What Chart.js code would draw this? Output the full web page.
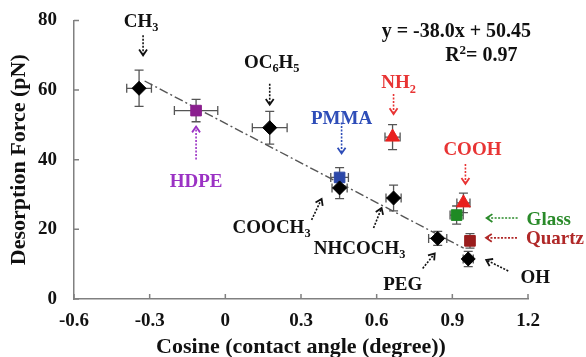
<!DOCTYPE html>
<html>
<head>
<meta charset="utf-8">
<script src="https://cdn.jsdelivr.net/npm/chart.js@4"></script>
<style>
  body { margin: 0; background: #fff; }
</style>
</head>
<body>
<canvas id="mycanvas" width="586" height="357"></canvas>
<script>
// data
var pointNames = ['CH3', 'HDPE', 'OC6H5', 'PMMA', 'COOCH3', 'NHCOCH3', 'NH2', 'COOH', 'Glass', 'PEG', 'Quartz', 'OH'];
var cosVals   = [-0.342, -0.116, 0.176, 0.453, 0.453, 0.667, 0.663, 0.944, 0.917, 0.842, 0.970, 0.963];
var forceVals = [60.5, 54.1, 49.2, 34.9, 31.9, 29.0, 46.5, 27.6, 24.1, 17.4, 16.7, 11.5];
var cosErr    = [0.049, 0.086, 0.069, 0.035, 0.030, 0.030, 0.030, 0.026, 0.026, 0.036, 0.016, 0.020];
var forceErr  = [5.2, 3.2, 4.7, 2.8, 3.1, 3.7, 3.6, 2.8, 2.6, 2.0, 2.1, 2.2];
var kinds     = ['black', 'hdpe', 'black', 'pmma', 'black', 'black', 'red', 'red', 'glass', 'black', 'quartz', 'black'];

// fitted line end points (y = -38.0x + 50.45)
var trendX = [-0.32, 0.945];
var trendY = [62.6, 14.6];

var xTicks = [-0.6, -0.3, 0, 0.3, 0.6, 0.9, 1.2];
var yTicks = [0, 20, 40, 60, 80];

var markerStyle = {
    black:  { shape: 'rectRot',  color: '#000000', r: 7 },
    hdpe:   { shape: 'rect',     color: '#8a1f8e', r: 7.5 },
    pmma:   { shape: 'rect',     color: '#2b47a8', r: 7.5 },
    red:    { shape: 'triangle', color: '#e8201e', r: 8 },
    glass:  { shape: 'rect',     color: '#1f8a24', r: 7.5 },
    quartz: { shape: 'rect',     color: '#9a1d1d', r: 7.5 }
};

// labels, offsets in px from their point
var notes = [
    { i: 0,  text: 'CH_3',      color: '#111', dx: 2,   dy: -68, align: 'center', arrow: [4, -53, 4, -33] },
    { i: 1,  text: 'HDPE',      color: '#9b32c4', dx: 0, dy: 70, align: 'center', arrow: [0, 49, 0, 16] },
    { i: 2,  text: 'OC_6H_5',   color: '#111', dx: 2,   dy: -66, align: 'center', arrow: [0, -44, 0, -23] },
    { i: 3,  text: 'PMMA',      color: '#2e4db8', dx: 2, dy: -60, align: 'center', arrow: [2, -55, 2, -24] },
    { i: 4,  text: 'COOCH_3',   color: '#111', dx: -68, dy: 39, align: 'center', arrow: [-28, 32, -18, 11] },
    { i: 5,  text: 'NHCOCH_3',  color: '#111', dx: -34, dy: 50, align: 'center', arrow: [-20, 30, -12, 10] },
    { i: 6,  text: 'NH_2',      color: '#e83434', dx: 6, dy: -55, align: 'center', arrow: [1, -43, 1, -23] },
    { i: 7,  text: 'COOH',      color: '#e83434', dx: 9, dy: -54, align: 'center', arrow: [2, -39, 2, -19] },
    { i: 8,  text: 'Glass',     color: '#2a8a2a', dx: 70, dy: 4, align: 'left', arrow: [61, 3, 30, 3] },
    { i: 9,  text: 'PEG',       color: '#111', dx: -35, dy: 45, align: 'center', arrow: [-15, 30, -3, 15] },
    { i: 10, text: 'Quartz',    color: '#b02828', dx: 56, dy: -3, align: 'left', arrow: [47, -3, 16, -3] },
    { i: 11, text: 'OH',        color: '#111', dx: 67, dy: 18, align: 'center', arrow: [40, 12, 18, 1] }
];

var serif = '"Liberation Serif", "Times New Roman", serif';

function drawRich(ctx, str, x, y, align, size) {
    var parts = [];
    for (var k = 0; k < str.length; k++) {
        var c = str[k];
        if ((c == '_' || c == '^') && k + 1 < str.length) {
            parts.push({ t: str[k + 1], mode: c });
            k++;
        } else {
            parts.push({ t: c, mode: '' });
        }
    }
    var total = 0;
    parts.forEach(function (p) {
        p.size = p.mode ? size * 0.65 : size;
        ctx.font = 'bold ' + p.size + 'px ' + serif;
        p.w = ctx.measureText(p.t).width;
        total += p.w;
    });
    var cx = align == 'left' ? x : (align == 'right' ? x - total : x - total / 2);
    ctx.textAlign = 'left';
    ctx.textBaseline = 'alphabetic';
    parts.forEach(function (p) {
        ctx.font = 'bold ' + p.size + 'px ' + serif;
        var off = size * 0.33;
        if (p.mode == '_') off += size * 0.22;
        if (p.mode == '^') off -= size * 0.38;
        ctx.fillText(p.t, cx, y + off);
        cx += p.w;
    });
}

function drawArrow(ctx, x0, y0, x1, y1, color) {
    ctx.save();
    ctx.strokeStyle = color;
    ctx.lineWidth = 1.6;
    ctx.setLineDash([2, 1.5]);
    ctx.beginPath();
    ctx.moveTo(x0, y0);
    ctx.lineTo(x1, y1);
    ctx.stroke();
    ctx.setLineDash([]);
    ctx.lineWidth = 1.8;
    var a = Math.atan2(y1 - y0, x1 - x0);
    var L = 7;
    ctx.beginPath();
    ctx.moveTo(x1 - L * Math.cos(a - 0.6), y1 - L * Math.sin(a - 0.6));
    ctx.lineTo(x1, y1);
    ctx.lineTo(x1 - L * Math.cos(a + 0.6), y1 - L * Math.sin(a + 0.6));
    ctx.stroke();
    ctx.restore();
}

var overlay = {
    id: 'overlay',
    beforeDatasetsDraw: function (chart) {
        var ctx = chart.ctx, x = chart.scales.x, y = chart.scales.y;
        ctx.save();
        ctx.strokeStyle = '#555';
        ctx.lineWidth = 1.3;
        for (var i = 0; i < cosVals.length; i++) {
            var px = x.getPixelForValue(cosVals[i]);
            var py = y.getPixelForValue(forceVals[i]);
            var xa = x.getPixelForValue(cosVals[i] - cosErr[i]);
            var xb = x.getPixelForValue(cosVals[i] + cosErr[i]);
            var ya = y.getPixelForValue(forceVals[i] - forceErr[i]);
            var yb = y.getPixelForValue(forceVals[i] + forceErr[i]);
            var cap = 4.5;
            ctx.beginPath();
            ctx.moveTo(xa, py); ctx.lineTo(xb, py);
            ctx.moveTo(xa, py - cap); ctx.lineTo(xa, py + cap);
            ctx.moveTo(xb, py - cap); ctx.lineTo(xb, py + cap);
            ctx.moveTo(px, ya); ctx.lineTo(px, yb);
            ctx.moveTo(px - cap, ya); ctx.lineTo(px + cap, ya);
            ctx.moveTo(px - cap, yb); ctx.lineTo(px + cap, yb);
            ctx.stroke();
        }
        ctx.restore();
    },
    afterDraw: function (chart) {
        var ctx = chart.ctx, x = chart.scales.x, y = chart.scales.y;
        var area = chart.chartArea;
        ctx.save();
        // inward tick marks
        ctx.strokeStyle = '#808080';
        ctx.lineWidth = 1.5;
        ctx.beginPath();
        xTicks.forEach(function (v) {
            var p = x.getPixelForValue(v);
            ctx.moveTo(p, area.bottom); ctx.lineTo(p, area.bottom - 5);
        });
        yTicks.forEach(function (v) {
            var p = y.getPixelForValue(v);
            ctx.moveTo(area.left, p); ctx.lineTo(area.left + 5, p);
        });
        ctx.stroke();

        notes.forEach(function (n) {
            var px = x.getPixelForValue(cosVals[n.i]);
            var py = y.getPixelForValue(forceVals[n.i]);
            ctx.fillStyle = n.color;
            drawRich(ctx, n.text, px + n.dx, py + n.dy, n.align, 19);
            drawArrow(ctx, px + n.arrow[0], py + n.arrow[1], px + n.arrow[2], py + n.arrow[3], n.color);
        });

        ctx.fillStyle = '#111';
        drawRich(ctx, 'y = -38.0x + 50.45', x.getPixelForValue(0.916), y.getPixelForValue(77.2), 'center', 20);
        drawRich(ctx, 'R^2= 0.97', x.getPixelForValue(1.015), y.getPixelForValue(70.1), 'center', 20);
        ctx.restore();
    }
};

var pts = cosVals.map(function (v, i) { return { x: v, y: forceVals[i] }; });
var trendPts = trendX.map(function (v, i) { return { x: v, y: trendY[i] }; });

var ctx = document.getElementById('mycanvas');
var chart = new Chart(ctx, {
    type: 'scatter',
    data: {
        datasets: [
            {
                label: 'Desorption force',
                data: pts,
                pointStyle: kinds.map(function (k) { return markerStyle[k].shape; }),
                pointRadius: kinds.map(function (k) { return markerStyle[k].r; }),
                pointBackgroundColor: kinds.map(function (k) { return markerStyle[k].color; }),
                pointBorderColor: kinds.map(function (k) { return markerStyle[k].color; }),
                pointBorderWidth: 1
            },
            {
                label: 'Fit',
                data: trendPts,
                showLine: true,
                pointRadius: 0,
                borderColor: '#555',
                borderWidth: 1.4,
                borderDash: [9, 3, 2, 3]
            }
        ]
    },
    options: {
        responsive: false,
        animation: false,
        layout: { padding: { top: 17, right: 58, left: 0, bottom: 0 } },
        plugins: { legend: { display: false }, tooltip: { enabled: false } },
        scales: {
            x: {
                type: 'linear',
                min: -0.6, max: 1.2,
                grid: { display: false },
                border: { color: '#808080', width: 1.5 },
                afterBuildTicks: function (s) { s.ticks = xTicks.map(function (v) { return { value: v }; }); },
                afterFit: function (s) { s.height = 58; },
                ticks: {
                    color: '#111',
                    padding: 3,
                    maxRotation: 0,
                    font: { family: serif, weight: 'bold', size: 19 },
                    callback: function (v) { return v == 0 ? '0' : v.toFixed(1); }
                },
                title: {
                    display: true,
                    text: 'Cosine (contact angle (degree))',
                    color: '#111',
                    padding: { top: 0, bottom: -4 },
                    font: { family: serif, weight: 'bold', size: 22 }
                }
            },
            y: {
                type: 'linear',
                min: 0, max: 80,
                grid: { display: false },
                border: { color: '#808080', width: 1.5 },
                afterBuildTicks: function (s) { s.ticks = yTicks.map(function (v) { return { value: v }; }); },
                afterFit: function (s) { s.width = 74; },
                ticks: {
                    color: '#111',
                    padding: 9,
                    font: { family: serif, weight: 'bold', size: 19 }
                },
                title: {
                    display: true,
                    text: 'Desorption Force (pN)',
                    color: '#111',
                    padding: { top: 6, bottom: 0 },
                    font: { family: serif, weight: 'bold', size: 22 }
                }
            }
        }
    },
    plugins: [overlay]
});
</script>
</body>
</html>
